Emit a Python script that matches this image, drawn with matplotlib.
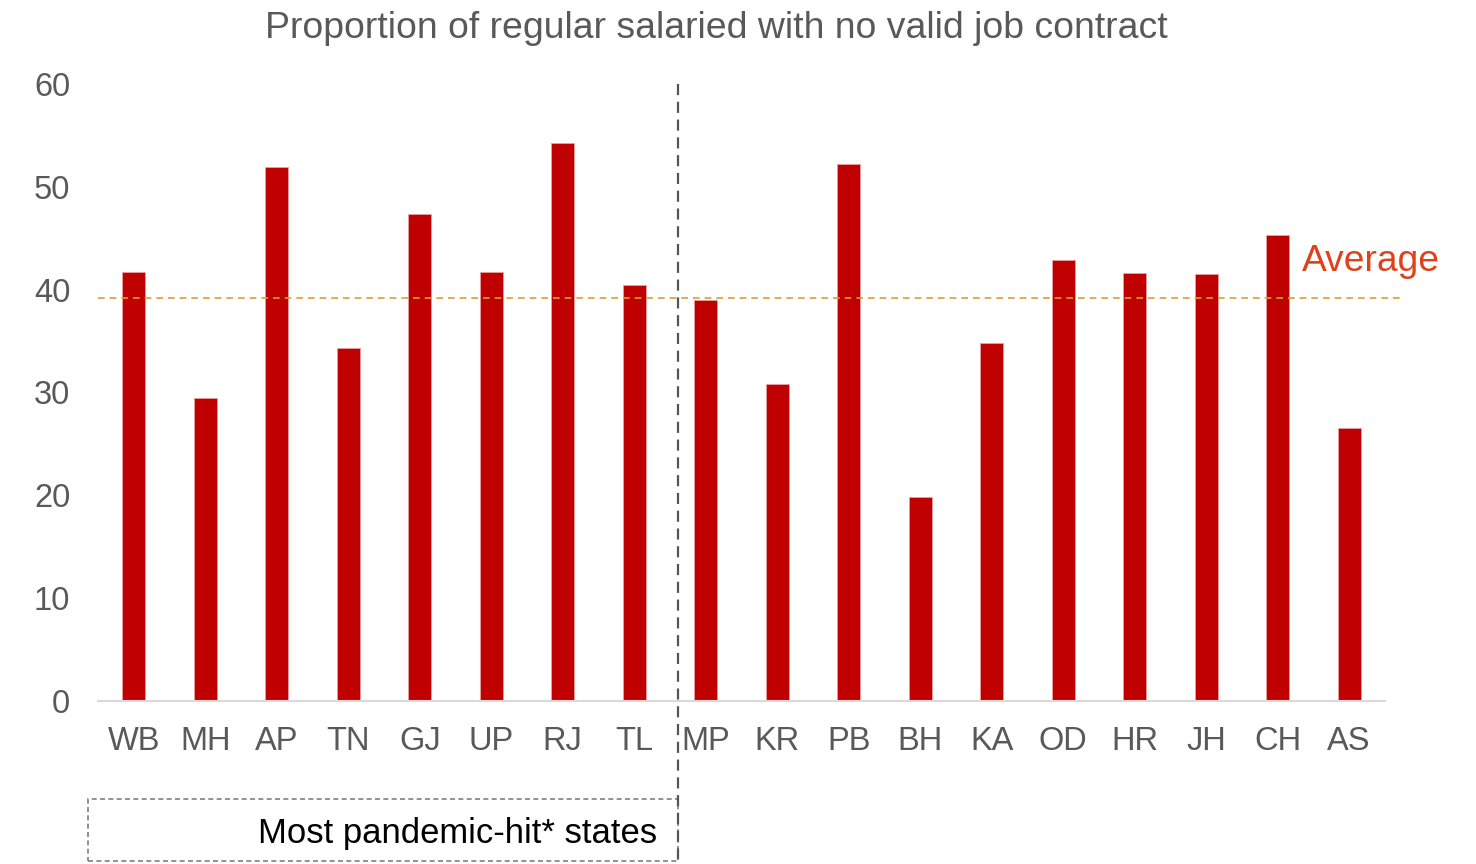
import numpy as np
import matplotlib.pyplot as plt
from matplotlib.patches import Rectangle

plt.rcParams['font.family'] = ['Liberation Sans', 'DejaVu Sans']

# data
states = ['WB', 'MH', 'AP', 'TN', 'GJ', 'UP', 'RJ', 'TL',
          'MP', 'KR', 'PB', 'BH', 'KA', 'OD', 'HR', 'JH', 'CH', 'AS']
share = [41.7, 29.5, 51.9, 34.3, 47.4, 41.7, 54.3, 40.5,
         39.0, 30.8, 52.2, 19.8, 34.8, 42.9, 41.6, 41.5, 45.3, 26.5]
average = 39.2
n_hit = 8                                   # first 8 states = most pandemic-hit

gray = '#595959'

fig = plt.figure(figsize=(14.76, 8.64), dpi=100)
ax = fig.add_axes([0.0664, 0.1887, 0.8719, 0.7141])

x = np.arange(len(states))
ax.bar(x, share, width=0.32, color='#C00000', edgecolor='#E8A0A0', linewidth=0.6, zorder=2)

ax.set_xlim(-0.5, len(states) - 0.5)
ax.set_ylim(0, 60)
ax.set_yticks(range(0, 61, 10))
ax.set_xticks(x)
ax.set_xticklabels(states)
ax.tick_params(axis='both', length=0, labelsize=23.5, colors=gray)
ax.tick_params(axis='x', pad=18)
ax.tick_params(axis='y', pad=20)
for s in ['top', 'right', 'left']:
    ax.spines[s].set_visible(False)
ax.spines['bottom'].set_color('#D9D9D9')
ax.spines['bottom'].set_linewidth(1.5)

# average line, runs a bit past the plot area
ax.plot([-0.5, 17.74], [average, average], ls=(0, (4, 3)), color='#D9A030',
        lw=1.2, clip_on=False, zorder=3)
ax.text(16.34, 42.7, 'Average', color='#E0401A', fontsize=26.7,
        ha='left', va='center')

# divider between pandemic-hit states and the rest
sep = n_hit - 0.39
ax.plot([sep, sep], [60, -15.6], ls=(0, (5, 3)), color='#555555', lw=1.6,
        clip_on=False, zorder=3)

box = Rectangle((-0.64, -15.6), sep + 0.64, 6.1, transform=ax.transData,
                fill=False, ls=(0, (3, 2)), edgecolor='#7F7F7F', lw=1.2, clip_on=False)
ax.add_patch(box)
ax.text(sep - 0.29, -12.9, 'Most pandemic-hit* states', fontsize=24.9, color='black',
        ha='right', va='center')

fig.text(716 / 1476, 1 - 28 / 864, 'Proportion of regular salaried with no valid job contract',
         fontsize=26.9, color=gray, ha='center', va='center')

fig.savefig('out.png', dpi=100)
